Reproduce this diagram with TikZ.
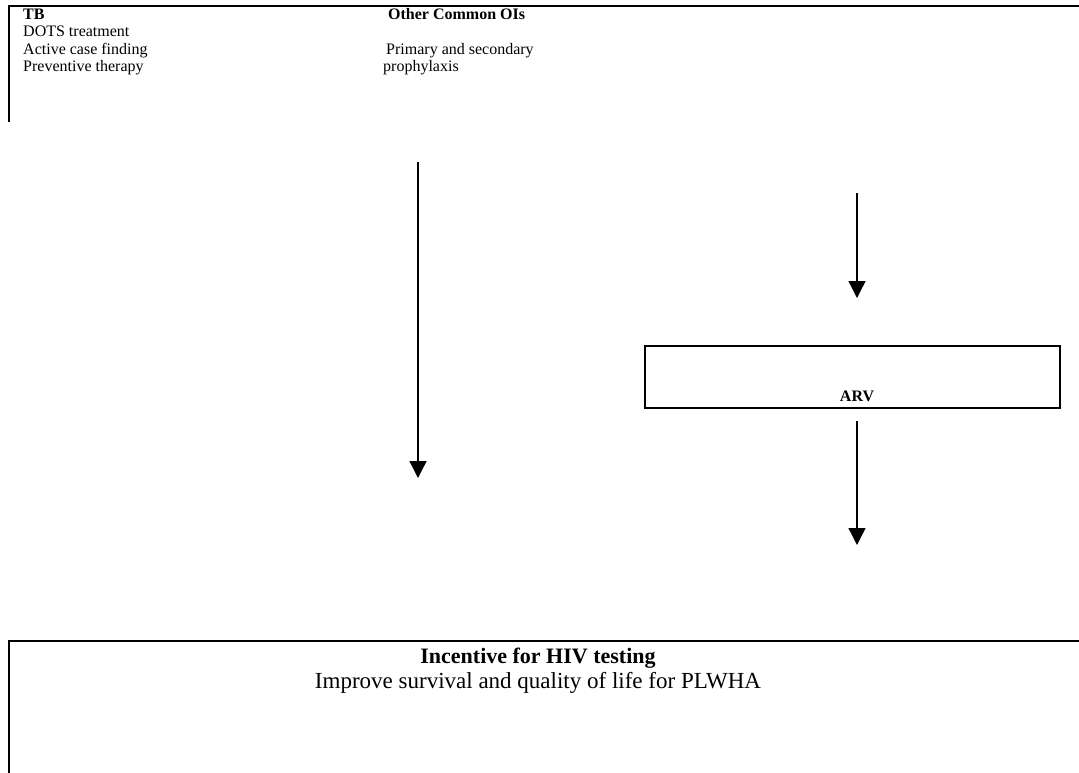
\documentclass[tikz,border=0pt]{standalone}
\usepackage{fontspec}
\setmainfont{Liberation Serif}
\usetikzlibrary{arrows.meta}
\tikzset{
  boxline/.style={line width=2.4pt},
  flow/.style={line width=1.3pt,-{Triangle[width=17pt,length=17pt]}},
  toptext/.style={anchor=base west,inner sep=0pt,font=\fontsize{16}{19}\selectfont},
  topbold/.style={toptext,font=\fontsize{16}{19}\selectfont\bfseries},
}
\begin{document}
\begin{tikzpicture}[x=1pt,y=-1pt]
  \useasboundingbox (0,0) rectangle (1079,772);
  % top box, open to the right and below
  \draw[boxline] (9,122) -- (9,6) -- (1090,6);
  \node[topbold] (tb) at (23,19) {TB};
  \node[toptext] (dots) at (23,36) {DOTS treatment};
  \node[toptext] (active) at (23,54) {Active case finding};
  \node[toptext] (prevent) at (23,71) {Preventive therapy};
  \node[topbold] (ois) at (388,19) {Other Common OIs};
  \node[toptext] (primary) at (386,54) {Primary and secondary};
  \node[toptext] (prophyl) at (383,71) {prophylaxis};
  % arrows
  \coordinate (tbfrom) at (418,162);
  \coordinate (tbto) at (418,478);
  \coordinate (arvfrom) at (857,193);
  \coordinate (arvto) at (857,298);
  \coordinate (outfrom) at (857,421);
  \coordinate (outto) at (857,545);
  \begin{scope}[flow]
    \draw (tbfrom) -- (tbto);
    \draw (arvfrom) -- (arvto);
    \draw (outfrom) -- (outto);
  \end{scope}
  % ARV box
  \node[draw,boxline,minimum width=415pt,minimum height=62pt,inner sep=0pt] (arvbox) at (852.5,377) {};
  \node[topbold,anchor=base] (arv) at (857,401) {ARV};
  % bottom box, open to the right and below
  \draw[boxline] (9,780) -- (9,641) -- (1090,641);
  \node[font=\fontsize{22}{26}\selectfont\bfseries,anchor=base] (incent) at (538,663) {Incentive for HIV testing};
  \node[font=\fontsize{23}{27}\selectfont,anchor=base] (improve) at (538,688) {Improve survival and quality of life for PLWHA};
\end{tikzpicture}
\end{document}
